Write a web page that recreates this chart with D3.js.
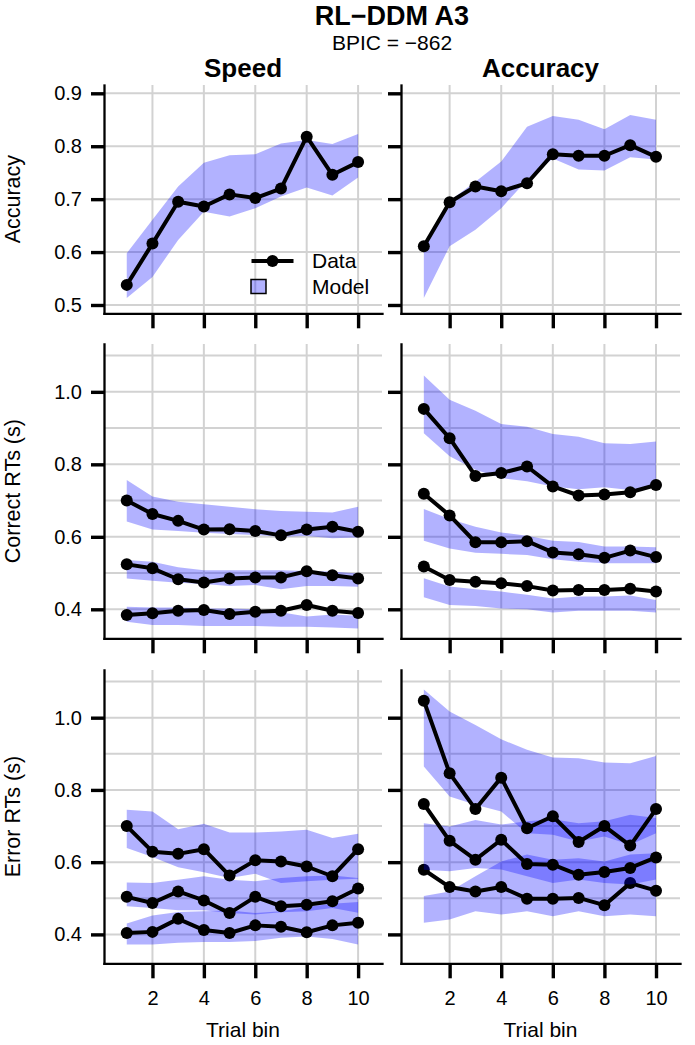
<!DOCTYPE html>
<html>
<head>
<meta charset="utf-8">
<script src="https://d3js.org/d3.v7.min.js"></script>
<style>
body { margin: 0; background: #fff; }
svg text { font-family: "Liberation Sans", Arial, sans-serif; fill: #000; }
</style>
</head>
<body>
<div class="chart"></div>
<script>
// x values (trial bins) and tick values
var bins = [1, 2, 3, 4, 5, 6, 7, 8, 9, 10];
var xTicks = [2, 4, 6, 8, 10];
var accTicks = [0.5, 0.6, 0.7, 0.8, 0.9];
var accGrid = [0.5, 0.6, 0.7, 0.8, 0.9];
var rtTicks = [0.4, 0.6, 0.8, 1.0];
var rtGrid = [0.4, 0.5, 0.6, 0.7, 0.8, 0.9, 1.0, 1.1];

// Accuracy - speed condition
var accSpeedData = [0.538, 0.616, 0.695, 0.686, 0.709, 0.702, 0.720, 0.818, 0.746, 0.770];
var accSpeedLo = [0.513, 0.553, 0.623, 0.676, 0.667, 0.683, 0.705, 0.722, 0.707, 0.741];
var accSpeedHi = [0.598, 0.661, 0.724, 0.769, 0.783, 0.785, 0.805, 0.812, 0.804, 0.823];

// Accuracy - accuracy condition
var accAccData = [0.611, 0.694, 0.724, 0.715, 0.730, 0.785, 0.782, 0.782, 0.802, 0.780];
var accAccLo = [0.513, 0.611, 0.642, 0.683, 0.736, 0.777, 0.756, 0.754, 0.779, 0.775];
var accAccHi = [0.612, 0.697, 0.733, 0.771, 0.837, 0.857, 0.850, 0.832, 0.859, 0.850];

// Correct RTs - speed (10%, 50%, 90% quantiles)
var corSpeedData = [
    [0.384, 0.389, 0.396, 0.398, 0.387, 0.393, 0.396, 0.412, 0.396, 0.390],
    [0.524, 0.513, 0.483, 0.474, 0.485, 0.488, 0.488, 0.505, 0.494, 0.485],
    [0.700, 0.663, 0.644, 0.620, 0.621, 0.616, 0.604, 0.620, 0.628, 0.614]];
var corSpeedLo = [
    [0.366, 0.357, 0.357, 0.354, 0.354, 0.354, 0.352, 0.352, 0.350, 0.347],
    [0.485, 0.479, 0.473, 0.470, 0.464, 0.467, 0.455, 0.464, 0.464, 0.462],
    [0.642, 0.620, 0.616, 0.611, 0.608, 0.605, 0.600, 0.602, 0.596, 0.598]];
var corSpeedHi = [
    [0.407, 0.405, 0.405, 0.402, 0.402, 0.400, 0.392, 0.380, 0.386, 0.382],
    [0.536, 0.531, 0.516, 0.508, 0.508, 0.508, 0.508, 0.506, 0.504, 0.499],
    [0.757, 0.711, 0.697, 0.690, 0.683, 0.676, 0.671, 0.669, 0.667, 0.683]];

// Correct RTs - accuracy
var corAccData = [
    [0.518, 0.481, 0.476, 0.472, 0.464, 0.452, 0.453, 0.453, 0.457, 0.449],
    [0.719, 0.659, 0.585, 0.585, 0.588, 0.557, 0.552, 0.542, 0.562, 0.544],
    [0.953, 0.872, 0.768, 0.776, 0.794, 0.739, 0.714, 0.717, 0.723, 0.743]];
var corAccLo = [
    [0.433, 0.412, 0.409, 0.402, 0.400, 0.391, 0.396, 0.396, 0.396, 0.391],
    [0.589, 0.568, 0.556, 0.553, 0.550, 0.538, 0.531, 0.527, 0.527, 0.527],
    [0.886, 0.822, 0.785, 0.762, 0.753, 0.739, 0.731, 0.737, 0.729, 0.739]];
var corAccHi = [
    [0.486, 0.463, 0.455, 0.449, 0.440, 0.430, 0.435, 0.435, 0.438, 0.426],
    [0.677, 0.649, 0.628, 0.612, 0.603, 0.589, 0.586, 0.573, 0.573, 0.571],
    [1.045, 0.978, 0.948, 0.911, 0.904, 0.884, 0.876, 0.858, 0.856, 0.863]];

// Error RTs - speed
var errSpeedData = [
    [0.404, 0.407, 0.443, 0.412, 0.404, 0.425, 0.421, 0.406, 0.425, 0.432],
    [0.504, 0.487, 0.519, 0.494, 0.459, 0.504, 0.478, 0.482, 0.492, 0.527],
    [0.700, 0.629, 0.623, 0.636, 0.563, 0.605, 0.602, 0.588, 0.561, 0.636]];
var errSpeedLo = [
    [0.372, 0.372, 0.377, 0.379, 0.379, 0.382, 0.391, 0.394, 0.387, 0.372],
    [0.478, 0.473, 0.467, 0.467, 0.459, 0.455, 0.461, 0.464, 0.473, 0.460],
    [0.639, 0.614, 0.586, 0.572, 0.556, 0.568, 0.542, 0.547, 0.551, 0.554]];
var errSpeedHi = [
    [0.430, 0.452, 0.462, 0.464, 0.466, 0.459, 0.464, 0.476, 0.485, 0.490],
    [0.544, 0.542, 0.551, 0.561, 0.551, 0.547, 0.556, 0.561, 0.563, 0.556],
    [0.745, 0.740, 0.691, 0.706, 0.682, 0.682, 0.685, 0.690, 0.667, 0.679]];

// Error RTs - accuracy
var errAccData = [
    [0.579, 0.531, 0.519, 0.531, 0.499, 0.499, 0.501, 0.481, 0.542, 0.521],
    [0.761, 0.659, 0.607, 0.662, 0.595, 0.593, 0.565, 0.573, 0.584, 0.613],
    [1.047, 0.846, 0.747, 0.834, 0.694, 0.727, 0.656, 0.700, 0.646, 0.747]];
var errAccLo = [
    [0.432, 0.441, 0.464, 0.455, 0.464, 0.450, 0.464, 0.450, 0.455, 0.450],
    [0.579, 0.575, 0.584, 0.580, 0.561, 0.542, 0.552, 0.542, 0.538, 0.552],
    [0.865, 0.782, 0.759, 0.740, 0.680, 0.676, 0.657, 0.671, 0.648, 0.680]];
var errAccHi = [
    [0.506, 0.519, 0.561, 0.602, 0.621, 0.607, 0.611, 0.602, 0.621, 0.625],
    [0.708, 0.699, 0.717, 0.704, 0.713, 0.719, 0.708, 0.713, 0.731, 0.722],
    [1.078, 1.017, 0.980, 0.940, 0.911, 0.890, 0.888, 0.876, 0.874, 0.894]];

var colTitles = ["Speed", "Accuracy"];
var rowTitles = ["Accuracy", "Correct RTs (s)", "Error RTs (s)"];

//Width and height
var width = 695, height = 1045;
var bandColor = "#0000ff", bandOpacity = 0.3;

// panel geometry
var cols = [{left: 104, right: 382}, {left: 401, right: 680}];
var rows = [
    {top: 85, bottom: 313.3, domain: [0.4843, 0.9157], grid: accGrid, ticks: accTicks},
    {top: 344, bottom: 638.3, domain: [0.32, 1.132], grid: rtGrid, ticks: rtTicks},
    {top: 670, bottom: 963.3, domain: [0.32, 1.132], grid: rtGrid, ticks: rtTicks}];

var panels = [
    {row: 0, col: 0, data: [accSpeedData], lo: [accSpeedLo], hi: [accSpeedHi]},
    {row: 0, col: 1, data: [accAccData], lo: [accAccLo], hi: [accAccHi]},
    {row: 1, col: 0, data: corSpeedData, lo: corSpeedLo, hi: corSpeedHi},
    {row: 1, col: 1, data: corAccData, lo: corAccLo, hi: corAccHi},
    {row: 2, col: 0, data: errSpeedData, lo: errSpeedLo, hi: errSpeedHi},
    {row: 2, col: 1, data: errAccData, lo: errAccLo, hi: errAccHi}];

//Create SVG element
var svg = d3.select("div.chart")
    .append("svg")
    .attr("width", width)
    .attr("height", height);

panels.forEach(drawPanel);

function drawPanel(p) {
    var c = cols[p.col], r = rows[p.row];
    var x = d3.scaleLinear().domain([0.115, 10.93]).range([c.left, c.right]);
    var y = d3.scaleLinear().domain(r.domain).range([r.bottom, r.top]);
    var g = svg.append("g");

    // grid lines
    g.selectAll("line.hgrid")
        .data(r.grid)
        .enter()
        .append("line")
        .attr("class", "hgrid")
        .attr("x1", c.left).attr("x2", c.right)
        .attr("y1", function (d) { return y(d); })
        .attr("y2", function (d) { return y(d); })
        .style("stroke", "#d2d2d2")
        .style("stroke-width", 2);
    g.selectAll("line.vgrid")
        .data(xTicks)
        .enter()
        .append("line")
        .attr("class", "vgrid")
        .attr("x1", function (d) { return x(d); })
        .attr("x2", function (d) { return x(d); })
        .attr("y1", r.top).attr("y2", r.bottom)
        .style("stroke", "#d2d2d2")
        .style("stroke-width", 2);

    // model band, then data line, for each quantile
    p.data.forEach(function (series, i) {
        var area = d3.area()
            .x(function (d, j) { return x(bins[j]); })
            .y0(function (d, j) { return y(p.lo[i][j]); })
            .y1(function (d, j) { return y(p.hi[i][j]); });
        g.append("path")
            .datum(series)
            .attr("d", area)
            .style("fill", bandColor)
            .style("fill-opacity", bandOpacity)
            .style("stroke", "none");

        var line = d3.line()
            .x(function (d, j) { return x(bins[j]); })
            .y(function (d) { return y(d); });
        g.append("path")
            .datum(series)
            .attr("d", line)
            .style("fill", "none")
            .style("stroke", "#000")
            .style("stroke-width", 4)
            .style("stroke-linejoin", "round");

        g.selectAll(null)
            .data(series)
            .enter()
            .append("circle")
            .attr("cx", function (d, j) { return x(bins[j]); })
            .attr("cy", function (d) { return y(d); })
            .attr("r", 6)
            .style("fill", "#000");
    });

    // y axis
    var yAxis = d3.axisLeft(y)
        .tickValues(r.ticks)
        .tickSize(13)
        .tickSizeOuter(0)
        .tickPadding(9)
        .tickFormat(p.col == 0 ? d3.format(".1f") : "");
    var ya = g.append("g")
        .attr("transform", "translate(" + c.left + ",0)")
        .call(yAxis);
    styleAxis(ya);

    // x axis
    var xAxis = d3.axisBottom(x)
        .tickValues(xTicks)
        .tickSize(15)
        .tickSizeOuter(0)
        .tickPadding(12.5)
        .tickFormat(p.row == 2 ? d3.format("d") : "");
    var xa = g.append("g")
        .attr("transform", "translate(0," + r.bottom + ")")
        .call(xAxis);
    styleAxis(xa);

    // axis titles
    if (p.col == 0) {
        svg.append("text")
            .attr("transform", "translate(20," + ((r.top + r.bottom) / 2) + ") rotate(-90)")
            .attr("text-anchor", "middle")
            .style("font-size", "21.5px")
            .text(rowTitles[p.row]);
    }
    if (p.row == 2) {
        svg.append("text")
            .attr("x", (c.left + c.right) / 2)
            .attr("y", 1037)
            .attr("text-anchor", "middle")
            .style("font-size", "21px")
            .text("Trial bin");
    }
    if (p.row == 0) {
        svg.append("text")
            .attr("x", (c.left + c.right) / 2)
            .attr("y", 77)
            .attr("text-anchor", "middle")
            .style("font-size", "26px")
            .style("font-weight", "bold")
            .text(colTitles[p.col]);
    }
}

function styleAxis(a) {
    a.select(".domain")
        .style("stroke", "#000")
        .style("stroke-width", 2.3)
        .style("stroke-linecap", "square");
    a.selectAll(".tick line")
        .style("stroke", "#000")
        .style("stroke-width", 3.4);
    a.selectAll(".tick text")
        .style("font-family", "'Liberation Sans', Arial, sans-serif")
        .style("font-size", "20px")
        .style("fill", "#000");
}

// legend (top left panel)
var legend = svg.append("g");
legend.append("line")
    .attr("x1", 251.5).attr("x2", 293.5)
    .attr("y1", 261).attr("y2", 261)
    .style("stroke", "#000")
    .style("stroke-width", 4);
legend.append("circle")
    .attr("cx", 272.5).attr("cy", 261).attr("r", 6)
    .style("fill", "#000");
legend.append("rect")
    .attr("x", 251).attr("y", 279.5)
    .attr("width", 15).attr("height", 14)
    .style("fill", bandColor)
    .style("fill-opacity", bandOpacity)
    .style("stroke", "#000")
    .style("stroke-width", 1.5);
legend.append("text")
    .attr("x", 312).attr("y", 268.3)
    .style("font-size", "21px")
    .text("Data");
legend.append("text")
    .attr("x", 312).attr("y", 294.3)
    .style("font-size", "21px")
    .text("Model");

// titles
svg.append("text")
    .attr("x", 392).attr("y", 25)
    .attr("text-anchor", "middle")
    .style("font-size", "27px")
    .style("font-weight", "bold")
    .text("RL\u2212DDM A3");
svg.append("text")
    .attr("x", 392).attr("y", 50)
    .attr("text-anchor", "middle")
    .style("font-size", "21px")
    .text("BPIC = \u2212862");
</script>
</body>
</html>
